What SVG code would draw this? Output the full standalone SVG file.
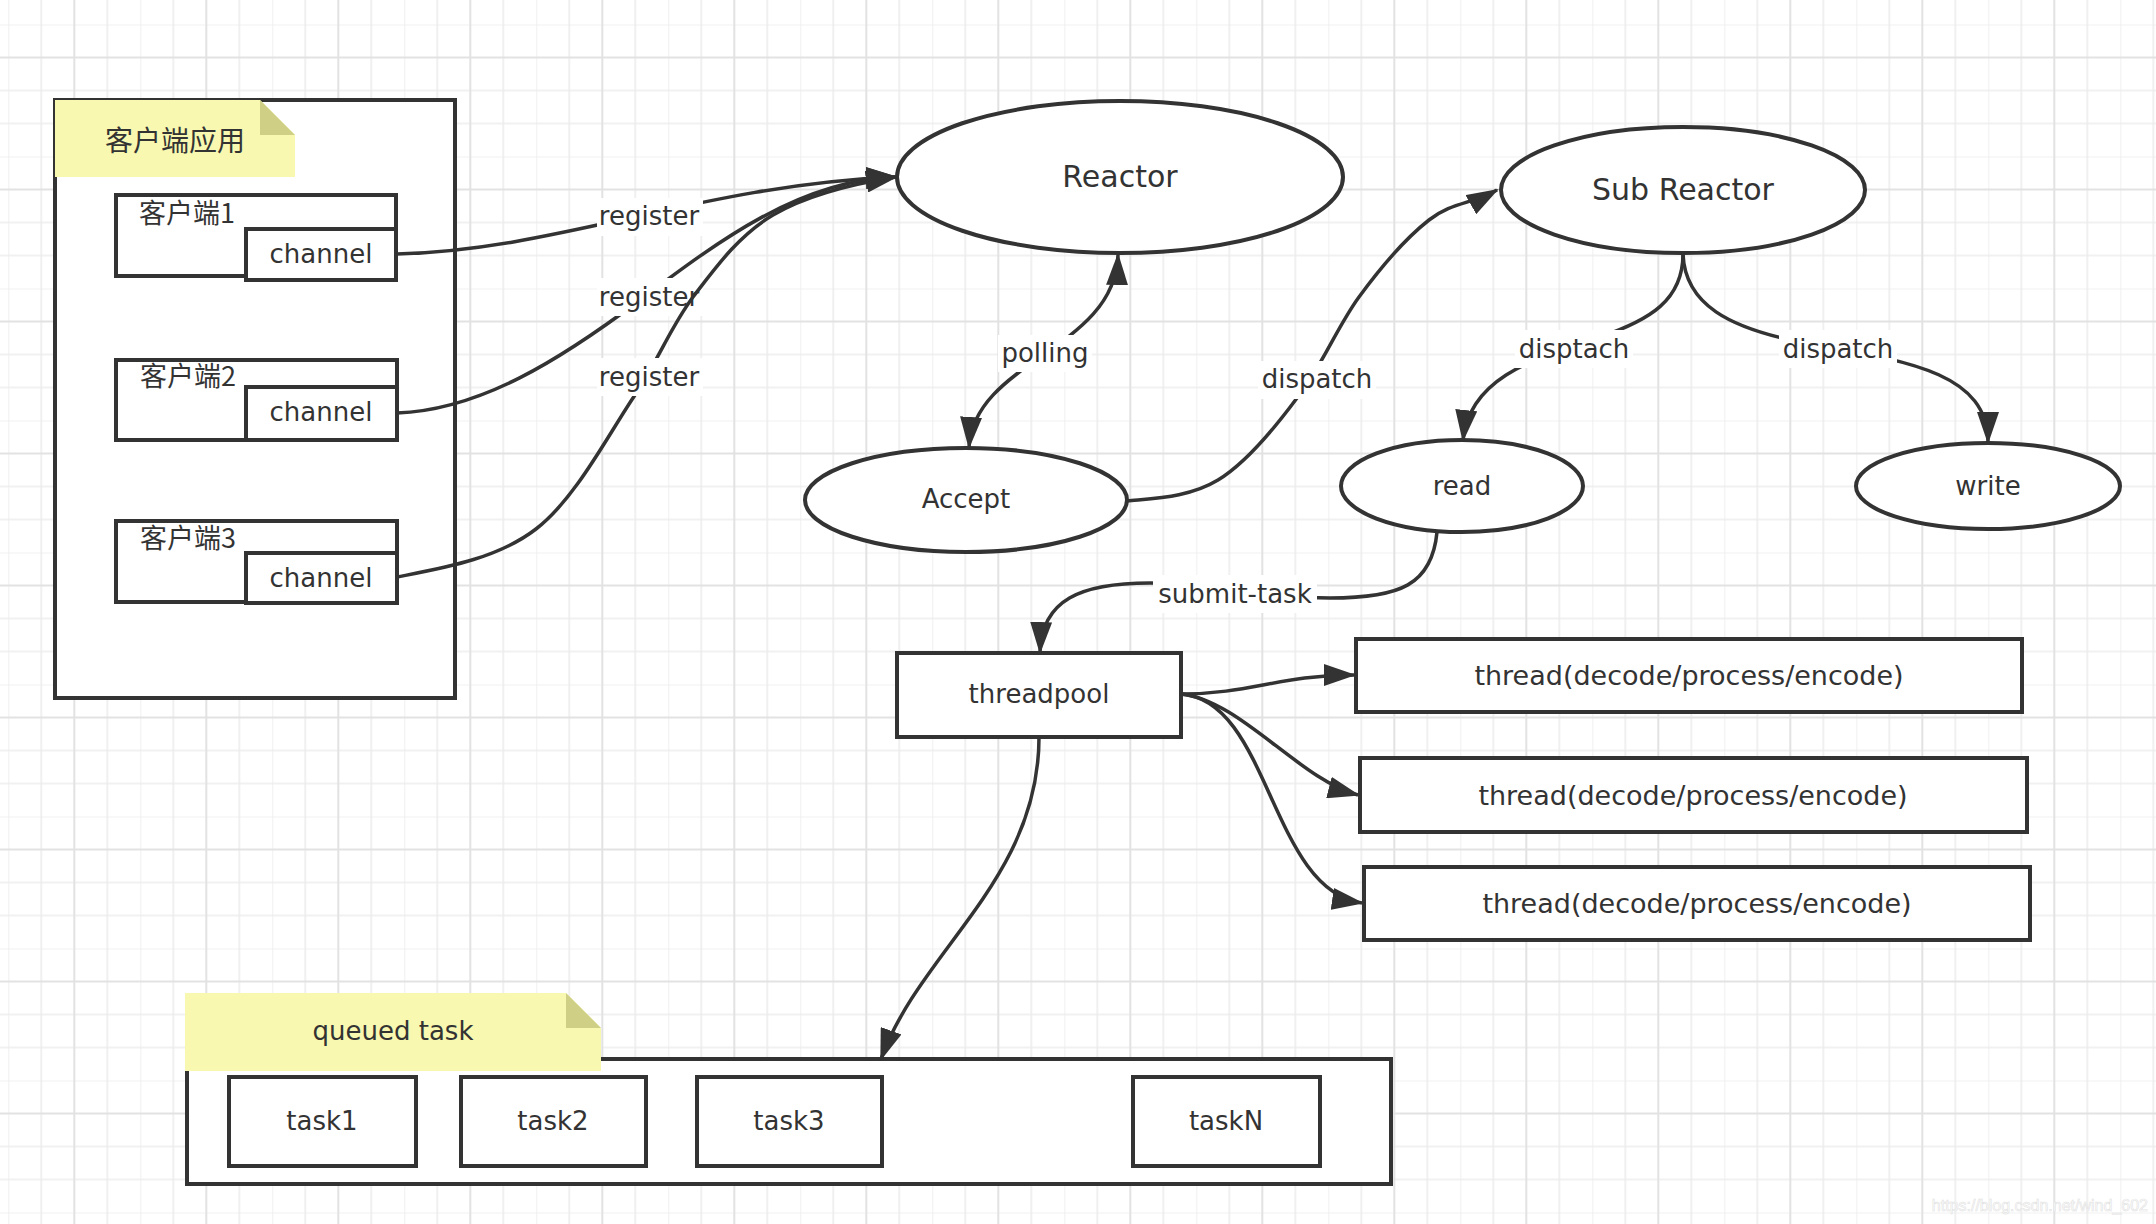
<svg xmlns="http://www.w3.org/2000/svg" width="2156" height="1224" viewBox="0 0 2156 1224">
<style>
.shape{fill:#ffffff;stroke:#333333;stroke-width:4}
.note{fill:#f8f8b0;stroke:none}
.fold{fill:#cfcf86;stroke:none}
.t{font-family:"DejaVu Sans","Noto Sans CJK SC",sans-serif;fill:#333333;text-anchor:middle;dominant-baseline:central;font-size:26px}
.cjk{font-family:"Noto Sans CJK SC","DejaVu Sans",sans-serif;fill:#333333;dominant-baseline:central;font-size:27px}
.big{font-size:30px}
.edge{fill:none;stroke:#333333;stroke-width:3.5}
.arr{marker-end:url(#ah)}
.lbg{fill:#ffffff;stroke:none}
</style>
<defs>
<pattern id="grid" patternUnits="userSpaceOnUse" x="8.3" y="24.5" width="132" height="132">
<g stroke="#ececec" stroke-width="1.6">
<line x1="0" y1="0" x2="0" y2="132"/><line x1="33" y1="0" x2="33" y2="132"/><line x1="99" y1="0" x2="99" y2="132"/>
<line x1="0" y1="0" x2="132" y2="0"/><line x1="0" y1="66" x2="132" y2="66"/><line x1="0" y1="99" x2="132" y2="99"/>
</g>
<g stroke="#e2e2e2" stroke-width="2">
<line x1="66" y1="0" x2="66" y2="132"/><line x1="0" y1="33" x2="132" y2="33"/>
</g>
</pattern>
<marker id="ah" markerUnits="userSpaceOnUse" markerWidth="32" markerHeight="22" viewBox="0 0 32 22" refX="30" refY="11" orient="auto">
<path d="M0,0 L32,11 L0,22 z" fill="#333333"/>
</marker>
<marker id="ahs" markerUnits="userSpaceOnUse" markerWidth="32" markerHeight="22" viewBox="0 0 32 22" refX="30" refY="11" orient="auto-start-reverse">
<path d="M0,0 L32,11 L0,22 z" fill="#333333"/>
</marker>
</defs>
<rect x="0" y="0" width="2156" height="1224" fill="#ffffff"/>
<rect x="0" y="0" width="2156" height="1224" fill="url(#grid)"/>

<g id="client-app">
<rect class="shape" x="55" y="100" width="400" height="598"/>
<path class="note" d="M55,100 L260,100 L295,135 L295,177 L55,177 z"/>
<path class="fold" d="M260,100 L295,135 L260,135 z"/>
<text class="cjk" x="175" y="139" text-anchor="middle" style="font-size:28px">客户端应用</text>
</g>
<g id="client1">
<rect class="shape" x="116" y="195" width="280" height="81"/>
<text class="cjk" x="139" y="211">客户端1</text>
<rect class="shape" x="246" y="229" width="150" height="51"/>
<text class="t" x="321" y="254">channel</text>
</g>
<g id="client2">
<rect class="shape" x="116" y="360" width="281" height="80"/>
<text class="cjk" x="140" y="374">客户端2</text>
<rect class="shape" x="246" y="387" width="151" height="53"/>
<text class="t" x="321" y="412">channel</text>
</g>
<g id="client3">
<rect class="shape" x="116" y="521" width="281" height="81"/>
<text class="cjk" x="140" y="536">客户端3</text>
<rect class="shape" x="246" y="553" width="151" height="50"/>
<text class="t" x="321" y="578">channel</text>
</g>

<g id="reactor">
<ellipse class="shape" cx="1120" cy="177" rx="223" ry="76"/>
<text class="t big" x="1120" y="176">Reactor</text>
</g>
<g id="sub-reactor">
<ellipse class="shape" cx="1683" cy="190" rx="182" ry="63"/>
<text class="t big" x="1683" y="189">Sub Reactor</text>
</g>
<g id="accept">
<ellipse class="shape" cx="966" cy="500" rx="161" ry="52"/>
<text class="t" x="966" y="499">Accept</text>
</g>
<g id="read">
<ellipse class="shape" cx="1462" cy="486" rx="121" ry="46"/>
<text class="t" x="1462" y="486">read</text>
</g>
<g id="write">
<ellipse class="shape" cx="1988" cy="486" rx="132" ry="43"/>
<text class="t" x="1988" y="486">write</text>
</g>
<g id="threadpool">
<rect class="shape" x="897" y="653" width="284" height="84"/>
<text class="t" x="1039" y="694">threadpool</text>
</g>
<g id="thread1">
<rect class="shape" x="1356" y="639" width="666" height="73"/>
<text class="t" x="1689" y="675" style="font-size:27px">thread(decode/process/encode)</text>
</g>
<g id="thread2">
<rect class="shape" x="1360" y="758" width="667" height="74"/>
<text class="t" x="1693" y="795" style="font-size:27px">thread(decode/process/encode)</text>
</g>
<g id="thread3">
<rect class="shape" x="1364" y="867" width="666" height="73"/>
<text class="t" x="1697" y="903" style="font-size:27px">thread(decode/process/encode)</text>
</g>

<g id="queued-task">
<rect class="shape" x="187" y="1059" width="1204" height="125"/>
<path class="note" d="M185,993 L566,993 L601,1028 L601,1071 L185,1071 z"/>
<path class="fold" d="M566,993 L601,1028 L566,1028 z"/>
<text class="t" x="393" y="1031">queued task</text>
</g>
<g id="task1">
<rect class="shape" x="229" y="1077" width="187" height="89"/>
<text class="t" x="322" y="1121">task1</text>
</g>
<g id="task2">
<rect class="shape" x="461" y="1077" width="185" height="89"/>
<text class="t" x="553" y="1121">task2</text>
</g>
<g id="task3">
<rect class="shape" x="697" y="1077" width="185" height="89"/>
<text class="t" x="789" y="1121">task3</text>
</g>
<g id="taskN">
<rect class="shape" x="1133" y="1077" width="187" height="89"/>
<text class="t" x="1226" y="1121">taskN</text>
</g>

<g id="connectors">
<path class="edge arr" d="M397,254 C560,250 700,185 896,177"/>
<rect class="lbg" x="597" y="198" width="106" height="38"/>
<text class="t" x="649" y="216">register</text>

<path class="edge arr" d="M397,413 C480,410 560,360 640,300 C720,240 800,180 896,177"/>
<rect class="lbg" x="597" y="278" width="106" height="38"/>
<text class="t" x="649" y="297">register</text>

<path class="edge arr" d="M397,577 C443,568 497,559 536,529 C575,499 607,437 633,398 C659,359 670,328 693,297 C716,267 739,235 773,215 C807,195 858,183 896,177"/>
<rect class="lbg" x="597" y="358" width="106" height="38"/>
<text class="t" x="649" y="377">register</text>

<path class="edge" d="M969,447 C975,360 1115,350 1118,255" marker-start="url(#ahs)" marker-end="url(#ahs)"/>
<rect class="lbg" x="998" y="335" width="94" height="37"/>
<text class="t" x="1045" y="353">polling</text>

<path class="edge arr" d="M1127,501 C1157,498 1190,497 1218,480 C1246,463 1274,429 1297,398 C1321,368 1337,327 1359,297 C1381,267 1406,238 1429,220 C1452,202 1472,204 1497,190"/>
<rect class="lbg" x="1258" y="361" width="118" height="38"/>
<text class="t" x="1317" y="379">dispatch</text>

<path class="edge arr" d="M1683,254 C1683,300 1650,320 1600,337 C1540,357 1470,375 1463,440"/>
<rect class="lbg" x="1515" y="330" width="118" height="38"/>
<text class="t" x="1574" y="349">disptach</text>

<path class="edge arr" d="M1683,254 C1685,305 1730,328 1800,342 C1900,360 1988,370 1988,442"/>
<rect class="lbg" x="1779" y="330" width="118" height="38"/>
<text class="t" x="1838" y="349">dispatch</text>

<path class="edge arr" d="M1437,532 C1432,585 1400,598 1330,598 C1260,598 1220,583 1150,583 C1080,583 1042,600 1040,652"/>
<rect class="lbg" x="1153" y="575" width="164" height="38"/>
<text class="t" x="1235" y="594">submit-task</text>

<path class="edge arr" d="M1181,694 C1250,694 1280,675 1354,675"/>
<path class="edge arr" d="M1181,694 C1240,700 1300,780 1358,795"/>
<path class="edge arr" d="M1181,694 C1270,700 1270,890 1362,903"/>
<path class="edge arr" d="M1039,737 C1039,880 920,950 881,1059"/>
</g>

<text x="2148" y="1211" text-anchor="end" style="font-family:'Liberation Sans',sans-serif;font-size:16px;fill:#ffffff;stroke:#e2e2e2;stroke-width:0.6">https://blog.csdn.net/wind_602</text>
</svg>
